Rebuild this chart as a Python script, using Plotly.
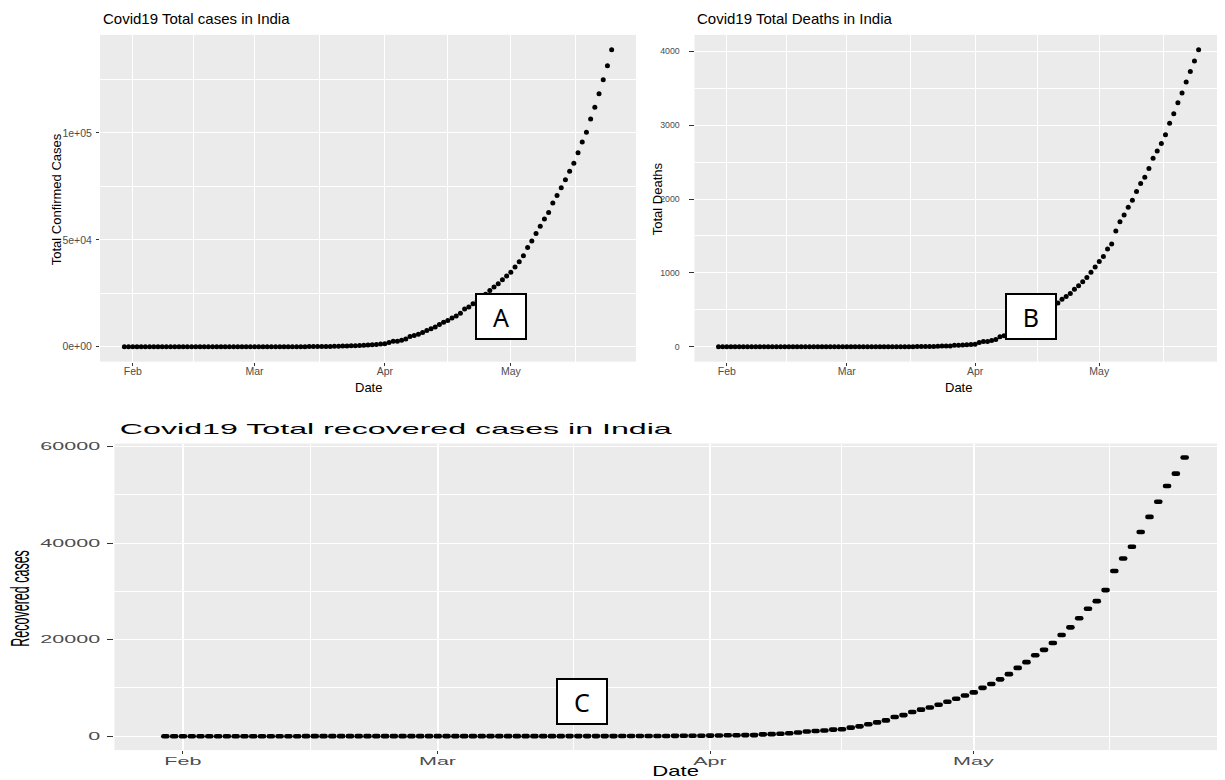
import pandas as pd
import plotly.graph_objects as go

# ---------------- data ----------------
dates = pd.date_range("2020-01-30", "2020-05-25", freq="D")

confirmed = [
    1, 1,                                                     # Jan 30-31
    1, 1, 2, 3, 3, 3, 3, 3, 3, 3, 3, 3, 3, 3, 3, 3, 3, 3, 3, 3,
    3, 3, 3, 3, 3, 3, 3, 3, 3,                                # Feb
    3, 3, 5, 5, 28, 30, 31, 34, 39, 43, 56, 62, 73, 82, 102, 113,
    119, 142, 156, 194, 244, 330, 396, 499, 536, 657, 727, 887, 987,
    1024, 1251,                                               # Mar
    1397, 1998, 2543, 2567, 3082, 3588, 4778, 5311, 5916, 6725,
    7598, 8446, 9205, 10453, 11487, 12322, 13430, 14352, 15722, 17615,
    18539, 20080, 21370, 23077, 24530, 26283, 27890, 29451, 31324, 33062,  # Apr
    34863, 37257, 39699, 42505, 46437, 49400, 52987, 56351, 59695, 62808,
    67161, 70768, 74292, 78055, 81997, 85784, 90648, 95698, 100328, 106475,
    112028, 118226, 124794, 131423, 138845,                   # May
]

deaths = [
    0, 0,
    0, 0, 0, 0, 0, 0, 0, 0, 0, 0, 0, 0, 0, 0, 0, 0, 0, 0, 0, 0,
    0, 0, 0, 0, 0, 0, 0, 0, 0,
    0, 0, 0, 0, 0, 0, 0, 0, 0, 0, 0, 1, 1, 2, 2, 2, 2, 3, 3, 4, 5,
    4, 7, 10, 10, 12, 20, 20, 24, 27, 32,
    35, 58, 72, 72, 86, 99, 136, 150, 178, 226, 246, 288, 331, 358, 393,
    405, 448, 486, 521, 559, 592, 645, 681, 721, 780, 825, 881, 939, 1008, 1079,
    1154, 1223, 1323, 1391, 1566, 1693, 1785, 1889, 1985, 2101, 2212, 2294,
    2415, 2551, 2649, 2753, 2871, 3025, 3156, 3302, 3434, 3584, 3726, 3868, 4021,
]

recovered = [
    0, 0,
    0, 0, 0, 0, 0, 0, 0, 0, 0, 0, 0, 0, 0, 0, 3, 3, 3, 3, 3, 3,
    3, 3, 3, 3, 3, 3, 3, 3, 3,
    3, 3, 3, 3, 3, 3, 3, 3, 3, 3, 4, 4, 4, 4, 10, 13, 13, 14, 14, 15,
    20, 23, 27, 27, 40, 43, 45, 73, 84, 95, 102,
    123, 148, 191, 192, 229, 229, 375, 421, 506, 620, 774, 969, 1080, 1181,
    1359, 1432, 1768, 2041, 2463, 2854, 3273, 3975, 4370, 5012, 5498, 5939,
    6523, 7137, 7747, 8437,
    9068, 10007, 10819, 11775, 12847, 14142, 15331, 16776, 17887, 19301,
    20969, 22549, 24420, 26400, 27969, 30258, 34224, 36795, 39233, 42309,
    45422, 48553, 51824, 54385, 57721,
]

month_ticks = ["2020-02-01", "2020-03-01", "2020-04-01", "2020-05-01"]
month_labels = ["Feb", "Mar", "Apr", "May"]
month_minor = ["2020-02-15 12:00", "2020-03-16 12:00", "2020-04-16", "2020-05-16 12:00"]

conf_ticks = [0, 50000, 100000]
conf_labels = ["0e+00", "5e+04", "1e+05"]
conf_minor = [25000, 75000, 125000]
death_ticks = [0, 1000, 2000, 3000, 4000]
death_minor = [500, 1500, 2500, 3500]
rec_ticks = [0, 20000, 40000, 60000]
rec_minor = [10000, 30000, 50000]

assert len(dates) == len(confirmed) == len(deaths) == len(recovered)

# ---------------- layout helpers ----------------
W, H = 1225, 780
OFF = 8                                  # default page margin around the plot div
FW, FH = W - OFF, H - OFF
def px_x(x): return (x - OFF) / FW
def px_y(y): return 1 - (y - OFF) / FH

first, last = dates[0], dates[-1]
span = last - first
pad = span * 0.05
xr_top = [first - pad, last + pad]
bl, br_full = 114.4, 1235.6                    # bottom panel runs past the image edge
frac = (W - bl) / (br_full - bl)
xr_bot = [first - pad, first - pad + (span + 2 * pad) * frac]

def yr(vals):
    m = max(vals)
    return [-0.05 * m, 1.05 * m]

GREY_TXT = "#4D4D4D"
FONT = "Liberation Sans, Arial, sans-serif"

def xaxis(domain, anchor, rng, gw, ticklen, standoff):
    return dict(domain=domain, anchor=anchor, type="date", range=[str(r) for r in rng],
                tickmode="array", tickvals=month_ticks, ticktext=month_labels,
                ticks="outside", ticklen=ticklen, tickwidth=1.1, tickcolor="#333333",
                ticklabelstandoff=standoff,
                showgrid=True, gridcolor="white", gridwidth=gw,
                minor=dict(tickvals=month_minor, showgrid=True, gridcolor="white",
                           gridwidth=gw / 2, ticks=""),
                zeroline=False, showline=False,
                tickfont=dict(family=FONT, size=10.5, color=GREY_TXT), fixedrange=True)

def yaxis(domain, anchor, rng, tv, tt, mv, ticklen, standoff, fsize=10.5):
    return dict(domain=domain, anchor=anchor, range=rng,
                tickmode="array", tickvals=tv, ticktext=tt,
                ticks="outside", ticklen=ticklen, tickwidth=1.1, tickcolor="#333333",
                ticklabelstandoff=standoff,
                showgrid=True, gridcolor="white", gridwidth=1.2,
                minor=dict(tickvals=mv, showgrid=True, gridcolor="white",
                           gridwidth=0.6, ticks=""),
                zeroline=False, showline=False,
                tickfont=dict(family=FONT, size=fsize, color=GREY_TXT), fixedrange=True)

fig = go.Figure()
fig.add_trace(go.Scatter(x=dates, y=confirmed, mode="markers", xaxis="x", yaxis="y",
                         marker=dict(color="black", size=5), showlegend=False))
fig.add_trace(go.Scatter(x=dates, y=deaths, mode="markers", xaxis="x2", yaxis="y2",
                         marker=dict(color="black", size=5), showlegend=False))
fig.add_trace(go.Scatter(x=dates, y=recovered, mode="markers", xaxis="x3", yaxis="y3",
                         marker=dict(symbol="line-ew", size=2.9, color="black",
                                     line=dict(width=4.6, color="black")),
                         showlegend=False))

top_ydom = [px_y(360), px_y(32)]
bot_ydom = [px_y(750), px_y(442.3)]

annotations = []
def txt(text, x, y, size, color="black", xanchor="center", angle=0):
    annotations.append(dict(text=text, x=px_x(x), y=px_y(y), xref="paper", yref="paper",
                            xanchor=xanchor, yanchor="middle", showarrow=False, textangle=angle,
                            font=dict(size=size, family=FONT, color=color)))

# titles (indices 0-2)
txt("Covid19 Total cases in India", 101, 16, 15, xanchor="left")
txt("Covid19 Total Deaths in India", 694.5, 16, 15, xanchor="left")
txt("Covid19 Total recovered cases in India", 116, 427, 15, xanchor="left")
# axis titles (indices 3-8)
txt("Date", 368, 386, 13)
txt("Date", 958, 386, 13)
txt("Total Confirmed Cases", 56, 197, 13, angle=-90)
txt("Total Deaths", 657, 197, 13, angle=-90)
txt("Date", 676, 771, 14)
txt("Recovered cases", 21, 598, 12.5, angle=-90)

# labelled boxes (indices 9-11)
for label, cx, cy in [("A", 500.6, 314.2), ("B", 1031.2, 314.2), ("C", 581.6, 701)]:
    annotations.append(dict(text=label, x=px_x(cx), y=px_y(cy), xref="paper", yref="paper",
                            xanchor="center", yanchor="middle", showarrow=False,
                            width=48, height=43, bgcolor="white", bordercolor="black",
                            borderwidth=2, borderpad=0,
                            font=dict(size=25, family="Noto Sans, sans-serif", color="black")))

fig.update_layout(
    width=FW, height=FH, margin=dict(l=0, r=0, t=0, b=0),
    paper_bgcolor="white", plot_bgcolor="#EBEBEB",
    xaxis=xaxis([px_x(100), px_x(636)], "y", xr_top, 1.2, 3, -3),
    yaxis=yaxis(top_ydom, "x", yr(confirmed), conf_ticks, conf_labels, conf_minor, 3, 2),
    xaxis2=xaxis([px_x(694.5), px_x(1222.6)], "y2", xr_top, 1.2, 3, -3),
    yaxis2=yaxis(top_ydom, "x2", yr(deaths), death_ticks, [str(v) for v in death_ticks],
                 death_minor, 5, 7, fsize=8.8),
    xaxis3=xaxis([px_x(114.4), 1.0], "y3", xr_bot, 2.2, 3, -2),
    yaxis3=yaxis(bot_ydom, "x3", yr(recovered), rec_ticks, [str(v) for v in rec_ticks],
                 rec_minor, 6, 5),
    annotations=annotations,
)

# The bottom panel of the reference is stretched horizontally (~2x); widen its texts
# and round the ends of its (elongated) dots.
post = """
var gd = document.getElementById('{plot_id}');
function stretch(el, sx, anchor) {
  if (!el) return;
  var b = el.getBBox();
  var ax = anchor === 'left' ? b.x : (anchor === 'right' ? b.x + b.width : b.x + b.width / 2);
  var orig = el.getAttribute('transform') || '';
  el.setAttribute('transform', orig + ' translate(' + ax + ',0) scale(' + sx + ',1) translate(' + (-ax) + ',0)');
}
function ann(i) { return gd.querySelector('g.annotation[data-index="' + i + '"]'); }
var t = ann(2); if (t) stretch(t, 560 / t.getBBox().width, 'left');
var d = ann(7); if (d) stretch(d, 52 / d.getBBox().width, 'center');
stretch(ann(8), 2.0, 'center');
gd.querySelectorAll('g.x3tick').forEach(function (g) { stretch(g, 2.05, 'center'); });
gd.querySelectorAll('g.y3tick').forEach(function (g) { stretch(g, 2.05, 'right'); });
gd.querySelectorAll('.x3y3 path.point').forEach(function (p) { p.style.strokeLinecap = 'round'; });
"""

fig.write_html("out.html", post_script=post)
